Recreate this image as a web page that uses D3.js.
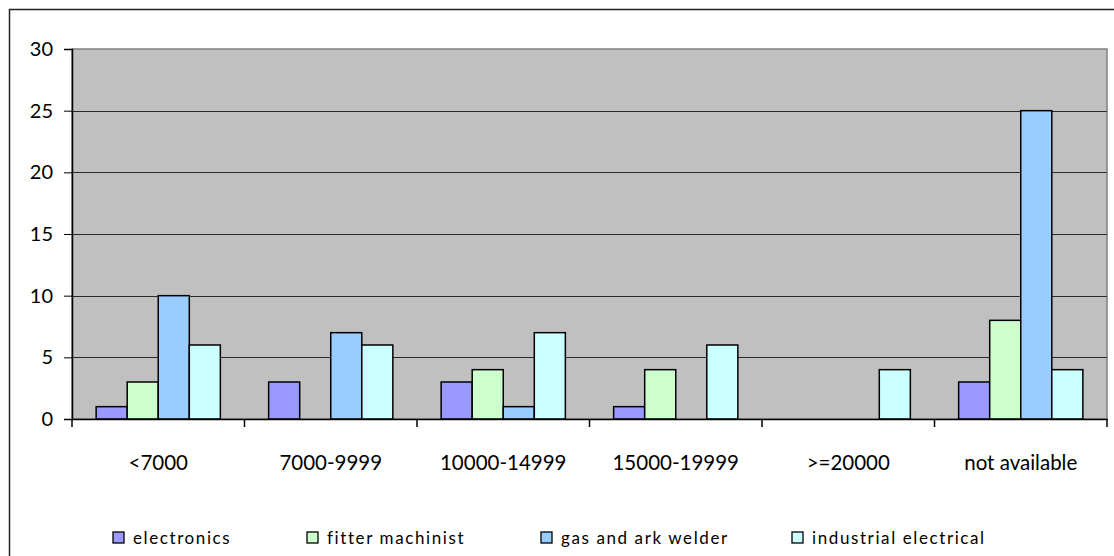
<!DOCTYPE html>
<html>
<head>
<meta charset="utf-8">
<script src="https://cdn.jsdelivr.net/npm/d3@7"></script>
<style>
  html, body { margin: 0; padding: 0; background: #fff; }
  svg { display: block; }
  text { font-family: Lato, "Open Sans", sans-serif; fill: #000; }
</style>
</head>
<body>
<svg id="chart" width="1114" height="556"></svg>
<script>
// Salary bands (categories)
const categories = ["<7000", "7000-9999", "10000-14999", "15000-19999", ">=20000", "not available"];

// Trade series
const seriesNames = ["electronics", "fitter machinist", "gas and ark welder", "industrial electrical"];
const electronics          = [1, 3, 3, 1, 0, 3];
const fitterMachinist      = [3, 0, 4, 4, 0, 8];
const gasAndArkWelder      = [10, 7, 1, 0, 0, 25];
const industrialElectrical = [6, 6, 7, 6, 4, 4];

const yTicks = [0, 5, 10, 15, 20, 25, 30];

const seriesValues = [electronics, fitterMachinist, gasAndArkWelder, industrialElectrical];
const colors = ["#9999FF", "#CCFFCC", "#99CCFF", "#CCFFFF"];

const svg = d3.select("#chart");

// Outer chart frame
svg.append("rect")
  .attr("x", 9.5).attr("y", 9.5)
  .attr("width", 1120).attr("height", 560)
  .attr("fill", "#fff").attr("stroke", "#222").attr("stroke-width", 1.5);

const plot = { left: 72, top: 49, right: 1107, bottom: 419 };

const x = d3.scaleBand()
  .domain(categories)
  .range([plot.left, plot.right])
  .paddingInner(0).paddingOuter(0);

const y = d3.scaleLinear()
  .domain([0, 30])
  .range([plot.bottom, plot.top]);

// Bars within each band
const groupWidth = x.bandwidth() * 0.72;
const xs = d3.scaleBand()
  .domain(d3.range(seriesNames.length))
  .range([(x.bandwidth() - groupWidth) / 2, (x.bandwidth() + groupWidth) / 2])
  .padding(0);

// Plot background
svg.append("rect")
  .attr("x", plot.left).attr("y", plot.top)
  .attr("width", plot.right - plot.left).attr("height", plot.bottom - plot.top)
  .attr("fill", "#C0C0C0")
  .attr("stroke", "#808080").attr("stroke-width", 1.5);

// Horizontal gridlines
svg.append("g")
  .selectAll("line")
  .data(yTicks.filter(t => t > 0 && t < 30))
  .join("line")
  .attr("x1", plot.left).attr("x2", plot.right)
  .attr("y1", d => Math.round(y(d)) + 0.5).attr("y2", d => Math.round(y(d)) + 0.5)
  .attr("stroke", "#2a2a2a").attr("stroke-width", 1.1);

// Bars
const groups = svg.append("g")
  .selectAll("g")
  .data(categories)
  .join("g")
  .attr("transform", d => `translate(${x(d)},0)`);

groups.selectAll("rect")
  .data((d, i) => seriesValues.map((vals, s) => ({ s, v: vals[i] })).filter(e => e.v > 0))
  .join("rect")
  .attr("x", d => xs(d.s))
  .attr("width", xs.bandwidth())
  .attr("y", d => y(d.v))
  .attr("height", d => y(0) - y(d.v))
  .attr("fill", d => colors[d.s])
  .attr("stroke", "#000").attr("stroke-width", 1.5);

// Y axis
const yAxis = svg.append("g")
  .attr("transform", `translate(${plot.left},0)`)
  .call(d3.axisLeft(y).tickValues(yTicks).tickSize(8).tickPadding(11).tickFormat(d3.format("d")));
yAxis.select(".domain").attr("stroke", "#000").attr("stroke-width", 1.5);
yAxis.selectAll(".tick line").attr("stroke", "#000");
yAxis.selectAll(".tick text").attr("font-size", 20).attr("font-family", "Lato, sans-serif").attr("fill", "#000");

// X axis
const xAxis = svg.append("g")
  .attr("transform", `translate(0,${plot.bottom})`)
  .call(d3.axisBottom(x).tickSize(0).tickPadding(36));
xAxis.select(".domain").attr("stroke", "#000").attr("stroke-width", 1.5);
xAxis.selectAll(".tick text").attr("font-size", 20.5).attr("font-family", "Lato, sans-serif").attr("fill", "#000");

// Category separator ticks
svg.append("g")
  .selectAll("line")
  .data(d3.range(categories.length + 1))
  .join("line")
  .attr("x1", i => plot.left + i * x.step()).attr("x2", i => plot.left + i * x.step())
  .attr("y1", plot.bottom).attr("y2", plot.bottom + 8)
  .attr("stroke", "#000").attr("stroke-width", 1.5);

// Legend
const legendX = [113, 307, 541, 792];
const legend = svg.append("g")
  .selectAll("g")
  .data(seriesNames)
  .join("g")
  .attr("transform", (d, i) => `translate(${legendX[i]},532)`);

legend.append("rect")
  .attr("width", 11).attr("height", 11)
  .attr("fill", (d, i) => colors[i])
  .attr("stroke", "#000").attr("stroke-width", 1.3);

legend.append("text")
  .attr("x", 20).attr("y", 12)
  .attr("font-size", 17)
  .attr("letter-spacing", 1.6)
  .text(d => d);
</script>
</body>
</html>
